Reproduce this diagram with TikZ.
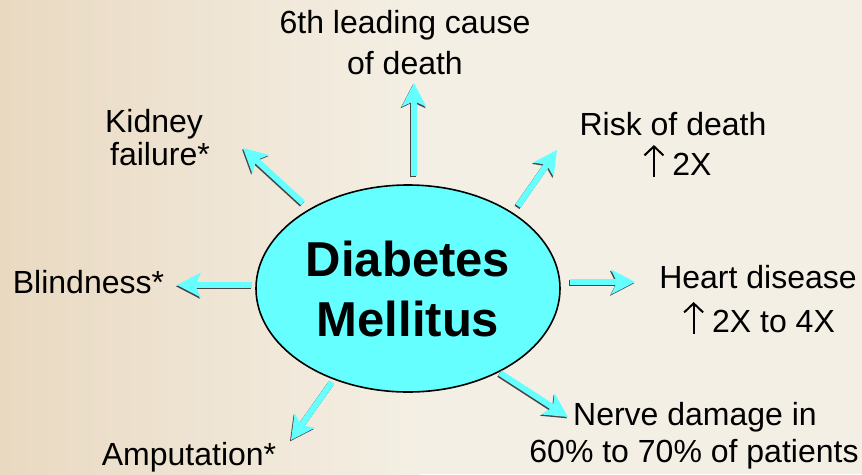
\documentclass[tikz,border=0pt]{standalone}
\usepackage{fontspec}
\setmainfont{Liberation Sans}
\usetikzlibrary{arrows.meta,shapes.geometric}
\definecolor{dmcyan}{RGB}{102,255,255}
\definecolor{bgL}{RGB}{233,217,193}
\definecolor{bgM}{RGB}{240,231,216}
\definecolor{bgR}{RGB}{244,239,228}
\definecolor{shadowc}{RGB}{70,70,70}
\tikzset{
  lbl/.style={font=\fontsize{32}{38}\selectfont, inner sep=0pt, anchor=base, text=black},
  arrbase/.style={line width=6pt, -{Stealth[length=24pt,width=25pt,inset=6pt,line width=0pt]}},
  arrshadow/.style={arrbase, draw=shadowc, transform canvas={shift={(-1pt,-1.3pt)}}},
  arrmain/.style={arrbase, draw=dmcyan},
  uparrow/.style={line width=2pt, draw=black, -{Straight Barb[length=9pt,width=19pt,line width=2pt]}},
}
\newcommand{\uparr}{\tikz[baseline=0pt]\draw[uparrow] (0pt,-1.5pt) -- (0pt,30pt);\hspace{8pt}}
\begin{document}
\begin{tikzpicture}[x=1pt,y=-1pt]
\useasboundingbox (0,0) rectangle (862,474);
% background
\fill[bgR] (0,0) rectangle (862,474);
\shade[left color=bgL, right color=bgM] (0,0) rectangle (260,474);
\shade[left color=bgM, right color=bgR] (259.5,0) rectangle (420,474);

% central ellipse
\node[ellipse, draw=black, line width=1.6pt, fill=dmcyan, minimum width=304pt, minimum height=207pt, inner sep=0pt, align=center, font=\fontsize{49}{60}\selectfont\bfseries] (dm) at (408,288.5) {Diabetes\\Mellitus};

% labels
\node[lbl] (t6a) at (405,33) {6th leading cause};
\node[lbl] (t6b) at (405,74) {of death};
\node[lbl] (kida) at (154,132) {Kidney};
\node[lbl] (kidb) at (160,165) {failure*};
\node[lbl] (riska) at (673,135) {Risk of death};
\node[lbl] (riskb) at (677.5,175) {\uparr 2X};
\node[lbl] (hearta) at (758,288) {Heart disease};
\node[lbl] (heartb) at (759,332) {\uparr 2X to 4X};
\node[lbl] (nervea) at (695,425) {Nerve damage in};
\node[lbl] (nerveb) at (694,462) {60\% to 70\% of patients};
\node[lbl] (blind) at (88.5,293) {Blindness*};
\node[lbl] (amp) at (189,465) {Amputation*};

% arrow end points
\coordinate (upT) at (414,176);  \coordinate (upH) at (414,83);
\coordinate (urT) at (518,206);  \coordinate (urH) at (557,150);
\coordinate (rT)  at (570,282);  \coordinate (rH)  at (635,282);
\coordinate (lrT) at (500,373);  \coordinate (lrH) at (568,417);
\coordinate (llT) at (332,382);  \coordinate (llH) at (291,440);
\coordinate (lT)  at (252,285);  \coordinate (lH)  at (177,285);
\coordinate (ulT) at (303,203);  \coordinate (ulH) at (243,148);

\foreach \a in {up,ur,r,lr,ll,l,ul}{
  \draw[arrshadow] (\a T) -- (\a H);
}
\foreach \a in {up,ur,r,lr,ll,l,ul}{
  \draw[arrmain] (\a T) -- (\a H);
}
\end{tikzpicture}
\end{document}
